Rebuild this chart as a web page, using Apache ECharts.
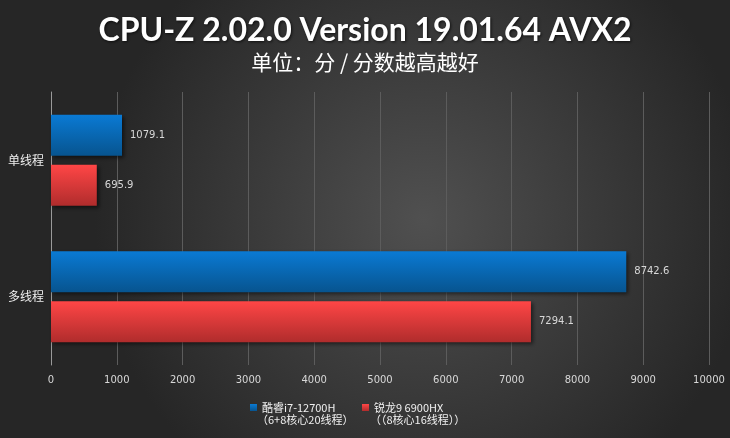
<!DOCTYPE html>
<html>
<head>
<meta charset="utf-8">
<script src="https://cdn.jsdelivr.net/npm/echarts@6/dist/echarts.min.js"></script>
<style>
  html, body { margin: 0; padding: 0; background: #333; }
  #chart { width: 730px; height: 438px; }
</style>
</head>
<body>
<div id="chart"></div>
<script>
// Benchmark categories and scores
const categories = ['单线程', '多线程'];
const intelName = '酷睿i7-12700H';
const amdName = '锐龙9 6900HX';
const intelNote = '（6+8核心20线程）';
const amdNote = '（（8核心16线程））';
const intelScores = [1079.1, 8742.6];
const amdScores = [695.9, 7294.1];
const xTicks = { min: 0, max: 10000, step: 1000 };

const chart = echarts.init(document.getElementById('chart'));

function vGrad(top, bottom) {
  return new echarts.graphic.LinearGradient(0, 0, 0, 1, [
    { offset: 0, color: top },
    { offset: 1, color: bottom }
  ]);
}

const barShadow = {
  shadowBlur: 4,
  shadowColor: 'rgba(0,0,0,0.55)',
  shadowOffsetX: 2,
  shadowOffsetY: 2
};

const valueLabel = {
  show: true,
  position: 'right',
  distance: 8,
  color: '#d8d8d8',
  fontSize: 10,
  fontFamily: 'DejaVu Sans'
};

const legendText = { color: '#f0f0f0', fontSize: 11, fontFamily: 'Noto Sans CJK SC' };

chart.setOption({
  backgroundColor: {
    type: 'radial', x: 0.58, y: 0.5, r: 0.75,
    colorStops: [
      { offset: 0, color: '#505050' },
      { offset: 1, color: '#262626' }
    ]
  },
  animation: false,
  title: [
    {
      text: 'CPU-Z 2.02.0 Version 19.01.64 AVX2',
      left: 'center', top: 10,
      textStyle: {
        color: '#ffffff', fontSize: 32, fontWeight: 'bold', fontFamily: 'Lato',
        textShadowColor: 'rgba(0,0,0,0.7)', textShadowBlur: 3,
        textShadowOffsetX: 1, textShadowOffsetY: 1
      }
    },
    {
      text: '单位：分 / 分数越高越好',
      left: 'center', top: 47,
      textStyle: {
        color: '#ffffff', fontSize: 21, fontWeight: 'normal',
        fontFamily: 'Noto Sans CJK SC'
      }
    }
  ],
  legend: [
    {
      data: [intelName], left: 245, top: 397,
      itemWidth: 7, itemHeight: 7, icon: 'rect', itemGap: 3,
      textStyle: legendText
    },
    {
      data: [amdName], left: 357, top: 397,
      itemWidth: 7, itemHeight: 7, icon: 'rect',
      textStyle: legendText
    }
  ],
  graphic: [
    {
      type: 'text', left: 257, top: 414,
      style: { text: intelNote, fill: '#f0f0f0', fontSize: 11, fontFamily: 'Noto Sans CJK SC' }
    },
    {
      type: 'text', left: 370, top: 414,
      style: { text: amdNote, fill: '#f0f0f0', fontSize: 11, fontFamily: 'Noto Sans CJK SC' }
    }
  ],
  grid: { left: 51, right: 21, top: 92, bottom: 73, containLabel: false },
  xAxis: {
    type: 'value',
    min: xTicks.min, max: xTicks.max, interval: xTicks.step,
    axisLine: { show: false },
    axisTick: { show: false },
    splitLine: { show: true, lineStyle: { color: '#5c5c5c', width: 1 } },
    axisLabel: {
      color: '#d8d8d8', fontSize: 10, margin: 10, fontFamily: 'DejaVu Sans',
      formatter: v => String(v)
    }
  },
  yAxis: {
    type: 'category',
    data: categories,
    inverse: true,
    axisLine: { show: true, lineStyle: { color: '#9a9a9a', width: 1 } },
    axisTick: { show: false },
    axisLabel: { color: '#eeeeee', fontSize: 12, margin: 7, fontFamily: 'Noto Sans CJK SC' }
  },
  series: [
    {
      name: intelName, type: 'bar', data: intelScores,
      barWidth: 41, barGap: '22%',
      itemStyle: Object.assign({ color: vGrad('#0a7ad4', '#07548f') }, barShadow),
      label: valueLabel
    },
    {
      name: amdName, type: 'bar', data: amdScores,
      barWidth: 41, barGap: '22%',
      itemStyle: Object.assign({ color: vGrad('#ff4646', '#b02c2c') }, barShadow),
      label: valueLabel
    }
  ]
});
</script>
</body>
</html>
